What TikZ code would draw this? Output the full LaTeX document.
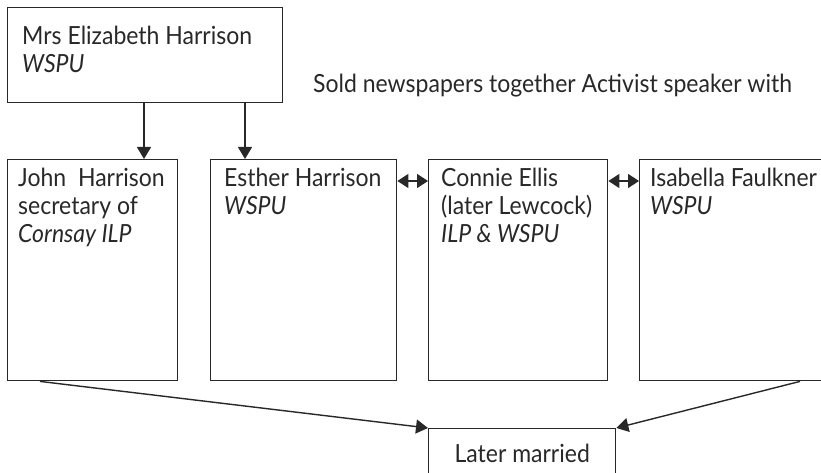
\documentclass[tikz,border=0pt]{standalone}
\usepackage{fontspec}
\setmainfont{Lato}[FakeStretch=0.92]
\usetikzlibrary{arrows.meta,positioning}
\definecolor{ink}{RGB}{40,40,40}
\newcommand{\linew}{1.4pt}
\newcommand{\txtsize}{\fontsize{25pt}{28pt}\selectfont}

\begin{document}
\begin{tikzpicture}[x=1pt,y=-1pt]
        %\draw[help lines,step=50] (0,0) grid (821,473);
        \tikzset{
            box/.style = {draw=ink, line width=\linew, inner sep=0pt, anchor=north west, minimum height=221pt},
            who/.style = {anchor=north west, inner sep=0pt, text=ink, align=left, font=\txtsize},
            tip/.style = {draw=ink, line width=\linew, -{Triangle[width=14pt,length=12pt]}},
            both/.style = {draw=ink, line width=\linew, {Triangle[width=14pt,length=11pt]}-{Triangle[width=14pt,length=11pt]}}
        }
        \useasboundingbox (0,0) rectangle (821,473);
        \node[box, minimum width=275pt, minimum height=95pt] (mother) at (7,7) {};
        \node[box, minimum width=170pt] (john) at (7,159) {};
        \node[box, minimum width=186pt] (esther) at (210,159) {};
        \node[box, minimum width=179pt] (connie) at (428,159) {};
        \node[box, minimum width=192pt] (isabella) at (639,159) {};
        \node[box, minimum width=187pt, minimum height=60pt] (married) at (428,428) {};
        \node[who] (mothertxt) at ([xshift=15pt,yshift=-19pt]mother.north west) {Mrs Elizabeth Harrison\\\textit{WSPU}};
        \node[who] (johntxt) at ([xshift=11pt,yshift=-9pt]john.north west) {John~ Harrison\\secretary of\\\textit{Cornsay ILP}};
        \node[who] (esthertxt) at ([xshift=14pt,yshift=-9pt]esther.north west) {Esther Harrison\\\textit{WSPU}};
        \node[who] (connietxt) at ([xshift=13pt,yshift=-9pt]connie.north west) {Connie Ellis\\(later Lewcock)\\\textit{ILP \& WSPU}};
        \node[who] (isabellatxt) at ([xshift=11pt,yshift=-9pt]isabella.north west) {Isabella Faulkner\\\textit{WSPU}};
        \node[who] (note) at (313,74) {Sold newspapers together Activist speaker with};
        \node[who, anchor=north] (marriedtxt) at ([yshift=-16pt]married.north) {Later married};
        \draw[tip] ([xshift=137pt]mother.south west) -- ([xshift=137pt]john.north west);
        \draw[tip] ([xshift=238pt]mother.south west) -- ([xshift=35pt]esther.north west);
        \draw[both] ([yshift=-22pt]esther.north east) -- ([yshift=-22pt]connie.north west);
        \draw[both] ([yshift=-22pt]connie.north east) -- ([yshift=-22pt]isabella.north west);
        \draw[tip] ([xshift=33pt]john.south west) -- (married.north west);
        \draw[tip] ([xshift=161pt]isabella.south west) -- (married.north east);
\end{tikzpicture}
\end{document}
